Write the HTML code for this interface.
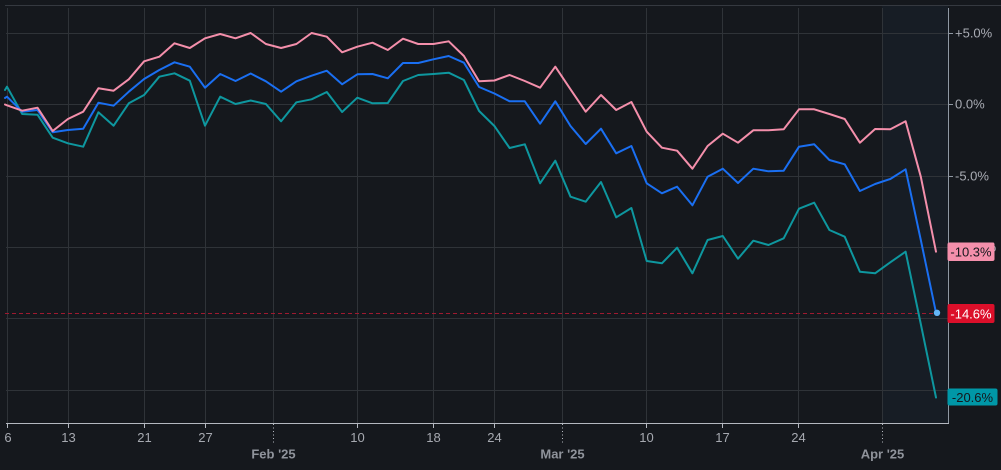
<!DOCTYPE html>
<html><head><meta charset="utf-8"><style>
html,body{margin:0;padding:0;background:#15181d;}
svg{display:block;}
text{font-family:"Liberation Sans",Arial,sans-serif;}
</style></head><body>
<svg width="1001" height="470" viewBox="0 0 1001 470" xmlns="http://www.w3.org/2000/svg">
<rect x="0" y="0" width="1001" height="470" fill="#15181d"/>
<rect x="882" y="6" width="66" height="417" fill="#171d25"/>
<line x1="5" y1="5.5" x2="1001" y2="5.5" stroke="#353940" stroke-width="1"/>
<g stroke="#2f3338" stroke-width="1">
<line x1="6" y1="33.5" x2="948" y2="33.5"/>
<line x1="6" y1="104.5" x2="948" y2="104.5"/>
<line x1="6" y1="176.5" x2="948" y2="176.5"/>
<line x1="6" y1="247.5" x2="948" y2="247.5"/>
<line x1="6" y1="318.5" x2="948" y2="318.5"/>
<line x1="6" y1="390.5" x2="948" y2="390.5"/>
</g>
<g stroke="#2f3338" stroke-width="1">
<line x1="7.5" y1="8" x2="7.5" y2="423"/>
<line x1="68.5" y1="8" x2="68.5" y2="423"/>
<line x1="144.5" y1="8" x2="144.5" y2="423"/>
<line x1="205.5" y1="8" x2="205.5" y2="423"/>
<line x1="273.5" y1="8" x2="273.5" y2="423"/>
<line x1="357.5" y1="8" x2="357.5" y2="423"/>
<line x1="433.5" y1="8" x2="433.5" y2="423"/>
<line x1="494.5" y1="8" x2="494.5" y2="423"/>
<line x1="562.5" y1="8" x2="562.5" y2="423"/>
<line x1="646.5" y1="8" x2="646.5" y2="423"/>
<line x1="722.5" y1="8" x2="722.5" y2="423"/>
<line x1="798.5" y1="8" x2="798.5" y2="423"/>
<line x1="882.5" y1="8" x2="882.5" y2="423"/>
</g>
<line x1="5" y1="313.5" x2="936" y2="313.5" stroke="#9e1a30" stroke-width="1" stroke-dasharray="4,3"/>
<g fill="none" stroke-width="2" stroke-linejoin="round" stroke-linecap="round">
<polyline stroke="#0e979f" points="5,90 7,86.7 22.2,114 37.5,114.7 52.7,137.7 67.9,143.3 83.2,146.7 98.4,112.3 113.6,125.7 128.8,103.3 144.1,95 159.3,76.7 174.5,73.3 189.8,80.7 205,125.7 220.2,96.7 235.5,104 250.7,100.5 265.9,104 281.1,121.3 296.4,102.3 311.6,99.3 326.8,92 342.1,112 357.3,97.7 372.5,103.3 387.8,103 403,81 418.2,75 433.4,74 448.7,72.7 463.9,80 479.1,111 494.4,126 509.6,148 524.8,144.3 540.1,183.3 555.3,160.7 570.5,196.7 585.7,201.7 601,182 616.2,217.3 631.4,208 646.7,261 661.9,263.3 677.1,247.7 692.4,273.3 707.6,240 722.8,236 738,258.7 753.3,240.7 768.5,245 783.7,238.3 799,208.7 814.2,202.7 829.4,230 844.7,236.7 859.9,271.7 875.1,273.3 890.3,262.3 905.6,251.7 920.8,324 936,397.5"/>
<polyline stroke="#1a6ff2" points="5,98 7,96.7 22.2,111.7 37.5,110 52.7,132.3 67.9,130 83.2,128.7 98.4,102.7 113.6,105.7 128.8,91.7 144.1,79 159.3,70 174.5,62.3 189.8,66.7 205,87.7 220.2,74 235.5,81 250.7,73.5 265.9,81.3 281.1,91.7 296.4,81.3 311.6,75.7 326.8,70.7 342.1,84.3 357.3,74.3 372.5,74 387.8,78.3 403,63 418.2,63 433.4,59.3 448.7,56 463.9,62.7 479.1,87 494.4,93.5 509.6,101.3 524.8,101.3 540.1,123.7 555.3,101.3 570.5,126 585.7,144 601,128.7 616.2,153.3 631.4,146 646.7,183.3 661.9,193.3 677.1,186.7 692.4,205.3 707.6,176.7 722.8,168.7 738,183 753.3,168.7 768.5,171.3 783.7,170.7 799,146.7 814.2,144.3 829.4,160 844.7,164.3 859.9,191 875.1,184 890.3,179 905.6,169.3 920.8,240 936,312.7"/>
<polyline stroke="#f48fab" points="5,104.5 7,105.3 22.2,110.7 37.5,107.7 52.7,131 67.9,119 83.2,111.7 98.4,88.3 113.6,90.7 128.8,79.3 144.1,61.3 159.3,56.7 174.5,43.3 189.8,48 205,38.3 220.2,34 235.5,38.3 250.7,33 265.9,44 281.1,48 296.4,44 311.6,33 326.8,36.7 342.1,52.3 357.3,46.7 372.5,42.7 387.8,50 403,38.7 418.2,44 433.4,44 448.7,41.3 463.9,56 479.1,81.3 494.4,80.5 509.6,75 524.8,81 540.1,87.7 555.3,66.7 570.5,89.3 585.7,111.7 601,95 616.2,110 631.4,102 646.7,131.7 661.9,147.7 677.1,150.7 692.4,168.7 707.6,146 722.8,133.7 738,142.7 753.3,130.3 768.5,130.3 783.7,129.3 799,109.3 814.2,109.3 829.4,114 844.7,119 859.9,142.7 875.1,129 890.3,129.3 905.6,121.3 920.8,176.7 936,251.7"/>
</g>
<circle cx="937" cy="312.8" r="3.2" fill="#64b5f6"/>
<line x1="948.5" y1="8" x2="948.5" y2="424" stroke="#8f98a3" stroke-width="1"/>
<line x1="6" y1="423.5" x2="949" y2="423.5" stroke="#b4b8c0" stroke-width="1"/>
<g stroke="#8f98a3" stroke-width="1">
<line x1="949" y1="33.5" x2="953" y2="33.5"/>
<line x1="949" y1="104.5" x2="953" y2="104.5"/>
<line x1="949" y1="176.5" x2="953" y2="176.5"/>
<line x1="949" y1="247.5" x2="953" y2="247.5"/>
<line x1="949" y1="318.5" x2="953" y2="318.5"/>
<line x1="949" y1="390.5" x2="953" y2="390.5"/>
</g>
<g stroke="#b4b8c0" stroke-width="1">
<line x1="7.5" y1="423" x2="7.5" y2="428"/>
<line x1="68.5" y1="423" x2="68.5" y2="428"/>
<line x1="144.5" y1="423" x2="144.5" y2="428"/>
<line x1="205.5" y1="423" x2="205.5" y2="428"/>
<line x1="357.5" y1="423" x2="357.5" y2="428"/>
<line x1="433.5" y1="423" x2="433.5" y2="428"/>
<line x1="494.5" y1="423" x2="494.5" y2="428"/>
<line x1="646.5" y1="423" x2="646.5" y2="428"/>
<line x1="722.5" y1="423" x2="722.5" y2="428"/>
<line x1="798.5" y1="423" x2="798.5" y2="428"/>
</g>
<g stroke="#b4b8c0" stroke-width="1" stroke-dasharray="1,2.5">
<line x1="273.5" y1="424" x2="273.5" y2="443"/>
<line x1="562.5" y1="424" x2="562.5" y2="443"/>
<line x1="882.5" y1="424" x2="882.5" y2="443"/>
</g>
<g fill="#a6a9b0" font-size="13" text-anchor="middle">
<text x="8" y="442">6</text>
<text x="68.5" y="442">13</text>
<text x="144.5" y="442">21</text>
<text x="205.5" y="442">27</text>
<text x="357.5" y="442">10</text>
<text x="433.5" y="442">18</text>
<text x="494.5" y="442">24</text>
<text x="646.5" y="442">10</text>
<text x="722.5" y="442">17</text>
<text x="798.5" y="442">24</text>
</g>
<g fill="#8f939b" font-size="13" text-anchor="middle" font-weight="bold">
<text x="273.5" y="458.5">Feb '25</text>
<text x="562.5" y="458.5">Mar '25</text>
<text x="882.5" y="458.5">Apr '25</text>
</g>
<g fill="#a9acb4" font-size="13">
<text x="955" y="37.5">+5.0%</text>
<text x="955" y="108.5">0.0%</text>
<text x="955" y="180.5">-5.0%</text>
<text x="955" y="251.5">-10.0%</text>
</g>
<rect x="947.5" y="242.5" width="47" height="18.5" rx="2" fill="#f48fab"/>
<text x="971" y="256.5" font-size="13" fill="#14171c" text-anchor="middle">-10.3%</text>
<rect x="947.5" y="304" width="47" height="19" rx="2" fill="#dc0f2a"/>
<text x="971" y="318.3" font-size="13" fill="#ffffff" text-anchor="middle">-14.6%</text>
<rect x="947.5" y="388.5" width="50" height="17" rx="2" fill="#0097a7"/>
<text x="972.5" y="401.8" font-size="13" fill="#14171c" text-anchor="middle">-20.6%</text>
</svg>
</body></html>
